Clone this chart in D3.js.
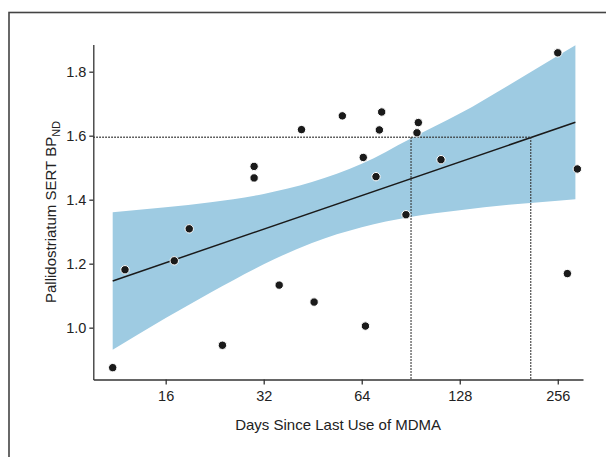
<!DOCTYPE html>
<html>
<head>
<meta charset="utf-8">
<script src="https://cdn.jsdelivr.net/npm/d3@7"></script>
<style>
  body { margin: 0; background: #fff; }
  svg text { font-family: "Liberation Sans", Arial, sans-serif; fill: #222; }
</style>
</head>
<body>
<div class="graph-container"></div>
<script>
// scatter: days since last MDMA use vs SERT BPnd
const days = [11, 12, 17, 18.9, 23.9, 29.9, 29.9, 35.7, 41.8, 45.7, 55.8, 64.7,
    65.7, 70.8, 72.5, 73.7, 87.5, 94.6, 95.5, 112.1, 256, 274, 294];
const bpnd = [0.875, 1.181, 1.209, 1.309, 0.945, 1.504, 1.468, 1.133, 1.619, 1.080, 1.662, 1.532,
    1.005, 1.472, 1.618, 1.674, 1.353, 1.609, 1.641, 1.525, 1.859, 1.169, 1.496];

// fitted line + confidence band
const fitDays = [11, 290];
const fitVals = [1.146, 1.642];
const bandDays = [11, 16, 22, 32, 45, 64, 90, 128, 181, 256, 290];
const bandUpper = [1.361, 1.376, 1.392, 1.418, 1.455, 1.512, 1.590, 1.669, 1.758, 1.850, 1.883];
const bandLower = [0.931, 1.030, 1.110, 1.198, 1.265, 1.314, 1.346, 1.367, 1.384, 1.397, 1.401];

// reference lines
const refBP = 1.595;
const refDays = [90.7, 211.4];

const xTicks = [16, 32, 64, 128, 256];
const yTicks = [1.0, 1.2, 1.4, 1.6, 1.8];

const width = 606;
const height = 457;

const svg = d3.select('div.graph-container')
    .append('svg')
    .attr('width', width)
    .attr('height', height);

// frame around the figure (runs off the page right and bottom)
svg.append('rect')
    .attr('x', 9)
    .attr('y', 12.5)
    .attr('width', 640)
    .attr('height', 480)
    .attr('fill', 'none')
    .attr('stroke', '#444')
    .attr('stroke-width', 1.6);

const x = d3.scaleLog().base(2)
    .domain([9.59, 306])
    .range([93.3, 583]);

const y = d3.scaleLinear()
    .domain([0.838, 1.885])
    .range([379.5, 44.5]);

const band = d3.area()
    .x((d, i) => x(bandDays[i]))
    .y0((d, i) => y(bandLower[i]))
    .y1((d, i) => y(bandUpper[i]))
    .curve(d3.curveMonotoneX);

svg.append('path')
    .datum(bandDays)
    .attr('d', band)
    .attr('fill', '#9ecbe2');

const fit = d3.line()
    .x((d, i) => x(fitDays[i]))
    .y((d, i) => y(fitVals[i]));

svg.append('path')
    .datum(fitDays)
    .attr('d', fit)
    .attr('fill', 'none')
    .attr('stroke', '#1a1a1a')
    .attr('stroke-width', 1.5);

// dotted guides
svg.append('line')
    .attr('x1', x.range()[0])
    .attr('x2', x(refDays[1]))
    .attr('y1', y(refBP))
    .attr('y2', y(refBP))
    .attr('stroke', '#333')
    .attr('stroke-width', 1.4)
    .attr('stroke-dasharray', '1.5,1.5');

svg.selectAll('line.vref')
    .data(refDays)
    .enter()
    .append('line')
    .attr('class', 'vref')
    .attr('x1', d => x(d))
    .attr('x2', d => x(d))
    .attr('y1', y(refBP))
    .attr('y2', y.range()[0])
    .attr('stroke', '#333')
    .attr('stroke-width', 1.4)
    .attr('stroke-dasharray', '1.5,1.5');

svg.selectAll('circle')
    .data(days)
    .enter()
    .append('circle')
    .attr('cx', d => x(d))
    .attr('cy', (d, i) => y(bpnd[i]))
    .attr('r', 4.2)
    .attr('fill', '#1a1a1a')
    .attr('stroke', '#fff')
    .attr('stroke-width', 1);

// axes
const yAxis = svg.append('g')
    .attr('transform', `translate(${x.range()[0]},0)`)
    .call(d3.axisLeft(y)
        .tickValues(yTicks)
        .tickFormat(d3.format('.1f'))
        .tickSize(4)
        .tickSizeOuter(0)
        .tickPadding(3));

const xAxis = svg.append('g')
    .attr('transform', `translate(0,${y.range()[0]})`)
    .call(d3.axisBottom(x)
        .tickValues(xTicks)
        .tickFormat(d3.format('d'))
        .tickSize(5)
        .tickSizeOuter(0)
        .tickPadding(6));

[xAxis, yAxis].forEach(g => {
    g.selectAll('path, line').attr('stroke', '#333').attr('stroke-width', 1.3);
    g.selectAll('text')
        .attr('font-size', '14.5px')
        .attr('font-family', '"Liberation Sans", Arial, sans-serif')
        .attr('fill', '#222');
});

svg.append('text')
    .attr('x', (x.range()[0] + x.range()[1]) / 2)
    .attr('y', 430)
    .attr('text-anchor', 'middle')
    .attr('font-size', '15px')
    .text('Days Since Last Use of MDMA');

const yLabel = svg.append('text')
    .attr('transform', `translate(56,${(y.range()[0] + y.range()[1]) / 2}) rotate(-90)`)
    .attr('text-anchor', 'middle')
    .attr('font-size', '15px');

yLabel.append('tspan').text('Pallidostriatum SERT BP');
yLabel.append('tspan')
    .attr('font-size', '11px')
    .attr('dy', 4)
    .text('ND');
</script>
</body>
</html>
